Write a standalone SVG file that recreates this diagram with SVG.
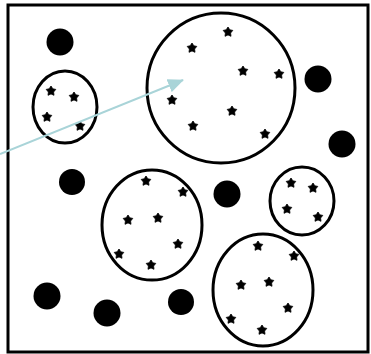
<svg xmlns="http://www.w3.org/2000/svg" xmlns:xlink="http://www.w3.org/1999/xlink" width="371" height="354" viewBox="0 0 371 354">
<style>
.frame{fill:none;stroke:#000;stroke-width:3}
.cell{fill:none;stroke:#000;stroke-width:3}
.blob{fill:#000}
.dot{fill:#000}
.arrow{stroke:#a9d4d8;stroke-width:2;fill:none}
</style>
<defs>
<path id="s" d="M0,-5 L1.8,-2.2 L4.8,-1.6 L2.6,1 L3,4.3 L0,2.9 L-3,4.3 L-2.6,1 L-4.8,-1.6 L-1.8,-2.2 Z" class="dot" stroke="#000" stroke-width="0.8" stroke-linejoin="round"/>
<marker id="ah" markerWidth="16" markerHeight="14" refX="15" refY="7" orient="auto" markerUnits="userSpaceOnUse">
<path d="M0,0 L16,7 L0,14 Z" fill="#a9d4d8"/>
</marker>
</defs>
<rect class="frame" x="8" y="5" width="360" height="347"/>
<g id="dark-dots">
<circle class="blob" cx="60" cy="42" r="13.5"/>
<circle class="blob" cx="318" cy="79" r="13.5"/>
<circle class="blob" cx="342" cy="144" r="13.5"/>
<circle class="blob" cx="72" cy="182" r="13"/>
<circle class="blob" cx="227" cy="194" r="13.5"/>
<circle class="blob" cx="47" cy="296" r="13.5"/>
<circle class="blob" cx="107" cy="313" r="13.5"/>
<circle class="blob" cx="181" cy="302" r="13"/>
</g>
<g id="cell-large">
<ellipse class="cell" cx="221" cy="88" rx="74" ry="75"/>
<use href="#s" x="228" y="32"/><use href="#s" x="192" y="48"/><use href="#s" x="243" y="71"/><use href="#s" x="279" y="74"/>
<use href="#s" x="172" y="100"/><use href="#s" x="232" y="111"/><use href="#s" x="193" y="126"/><use href="#s" x="265" y="134"/>
</g>
<g id="cell-left">
<ellipse class="cell" cx="65" cy="107" rx="32" ry="36"/>
<use href="#s" x="51" y="91"/><use href="#s" x="74" y="97"/><use href="#s" x="47" y="117"/><use href="#s" x="80" y="126"/>
</g>
<g id="cell-middle">
<ellipse class="cell" cx="152" cy="225" rx="50" ry="55"/>
<use href="#s" x="146" y="181"/><use href="#s" x="183" y="192"/><use href="#s" x="128" y="220"/><use href="#s" x="158" y="218"/>
<use href="#s" x="178" y="244"/><use href="#s" x="119" y="254"/><use href="#s" x="151" y="265"/>
</g>
<g id="cell-right">
<ellipse class="cell" cx="302" cy="201" rx="32" ry="34"/>
<use href="#s" x="291" y="183"/><use href="#s" x="313" y="188"/><use href="#s" x="287" y="209"/><use href="#s" x="318" y="217"/>
</g>
<g id="cell-bottom">
<ellipse class="cell" cx="263" cy="290" rx="50" ry="56"/>
<use href="#s" x="258" y="246"/><use href="#s" x="294" y="256"/><use href="#s" x="241" y="285"/><use href="#s" x="269" y="282"/>
<use href="#s" x="288" y="308"/><use href="#s" x="231" y="319"/><use href="#s" x="262" y="330"/>
</g>
<g id="connectors">
<line class="arrow" x1="0" y1="154" x2="183" y2="80" marker-end="url(#ah)"/>
</g>
</svg>
